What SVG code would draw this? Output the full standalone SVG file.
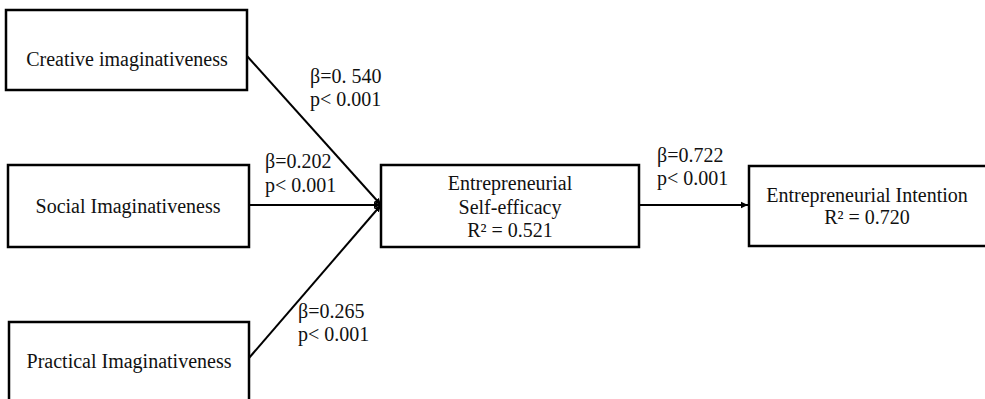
<svg xmlns="http://www.w3.org/2000/svg" width="985" height="399" viewBox="0 0 985 399">
<defs>
<style>
.box{fill:#fff;stroke:#000;stroke-width:2.5}
.t{font-family:"Liberation Serif","Times New Roman",serif;font-size:20px;fill:#111}
.c{text-anchor:middle}
.ln{stroke:#000;stroke-width:2;fill:none}
</style>
<marker id="ah" markerWidth="8" markerHeight="8" refX="7" refY="4" orient="auto" markerUnits="userSpaceOnUse">
<path d="M0,0.8 L7,4 L0,7.2 Z" fill="#000"/>
</marker>
</defs>
<rect width="985" height="399" fill="#fff"/>
<g id="connectors">
<line class="ln" x1="247" y1="56" x2="381" y2="205" marker-end="url(#ah)"/>
<line class="ln" x1="249" y1="205" x2="381" y2="205" marker-end="url(#ah)"/>
<line class="ln" x1="249" y1="358" x2="381" y2="205" marker-end="url(#ah)"/>
<line class="ln" x1="639" y1="205" x2="748" y2="205" marker-end="url(#ah)"/>
<text class="t" x="310" y="83">β=0. 540</text>
<text class="t" x="310" y="106">p&lt; 0.001</text>
<text class="t" x="265" y="168">β=0.202</text>
<text class="t" x="265" y="192">p&lt; 0.001</text>
<text class="t" x="298" y="318">β=0.265</text>
<text class="t" x="298" y="341">p&lt; 0.001</text>
<text class="t" x="657" y="162">β=0.722</text>
<text class="t" x="657" y="185">p&lt; 0.001</text>
</g>
<g id="creative">
<rect class="box" x="6" y="10" width="241" height="80"/>
<text class="t c" x="127" y="66">Creative imaginativeness</text>
</g>
<g id="social">
<rect class="box" x="8" y="165" width="241" height="82"/>
<text class="t c" x="128" y="213">Social Imaginativeness</text>
</g>
<g id="practical">
<rect class="box" x="9" y="322" width="240" height="90"/>
<text class="t c" x="129" y="368">Practical Imaginativeness</text>
</g>
<g id="self-efficacy">
<rect class="box" x="381" y="165" width="258" height="82"/>
<text class="t c" x="510" y="190">Entrepreneurial</text>
<text class="t c" x="510" y="214">Self-efficacy</text>
<text class="t c" x="510" y="237">R² = 0.521</text>
</g>
<g id="intention">
<rect class="box" x="749" y="166" width="250" height="80"/>
<text class="t c" x="867" y="202">Entrepreneurial Intention</text>
<text class="t c" x="867" y="224">R² = 0.720</text>
</g>
</svg>
